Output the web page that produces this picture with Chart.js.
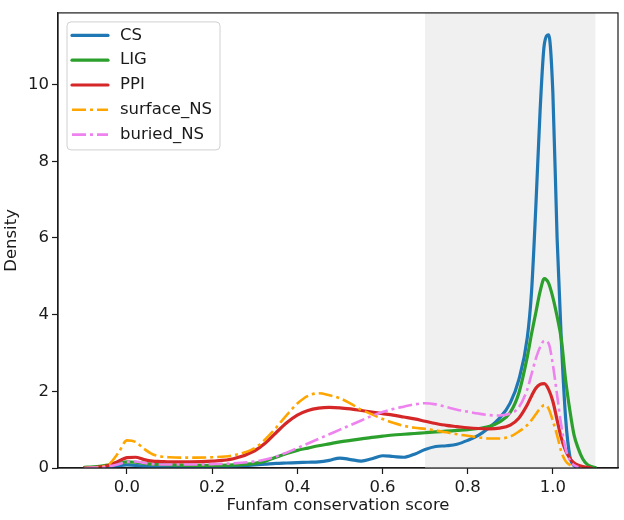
<!DOCTYPE html>
<html><head><meta charset="utf-8">
<script src="https://cdn.jsdelivr.net/npm/chart.js@4"></script>
<style>html,body{margin:0;padding:0;background:#fff}#wrap{width:624px;height:520px}</style>
</head><body><div id="wrap"><canvas id="c" width="624" height="520"></canvas></div>
<script>
// ---- data ----
const xGrid = [-0.10,-0.08,-0.06,-0.04,-0.02,0.00,0.02,0.04,0.06,0.08,0.10,0.15,0.20,0.25,0.30,0.325,0.35,0.375,0.40,0.425,0.45,0.475,0.50,0.525,0.55,0.575,0.60,0.625,0.65,0.675,0.70,0.725,0.75,0.775,0.80,0.825,0.85,0.875,0.90,0.92,0.94,0.95,0.96,0.97,0.98,0.99,1.00,1.01,1.02,1.03,1.04,1.05,1.06,1.07,1.08,1.09,1.10];
const csDensity = [0.00,0.01,0.02,0.04,0.06,0.08,0.07,0.04,0.03,0.03,0.03,0.03,0.04,0.05,0.08,0.10,0.12,0.13,0.14,0.15,0.16,0.20,0.26,0.22,0.18,0.24,0.32,0.30,0.28,0.36,0.48,0.56,0.58,0.62,0.72,0.85,1.05,1.30,1.70,2.30,3.40,4.60,6.80,9.30,11.05,11.30,9.80,6.00,3.30,1.30,0.30,0.06,0.01,null,null,null,null];
const ligDensity = [0.02,0.03,0.05,0.08,0.12,0.16,0.15,0.12,0.10,0.09,0.08,0.07,0.07,0.08,0.12,0.18,0.28,0.38,0.46,0.52,0.58,0.63,0.68,0.72,0.76,0.80,0.83,0.86,0.88,0.90,0.92,0.94,0.96,0.98,1.00,1.03,1.08,1.20,1.45,1.95,2.90,3.50,4.05,4.60,4.94,4.82,4.45,3.95,3.35,2.30,1.50,0.85,0.50,0.24,0.10,0.04,0.01];
const ppiDensity = [0.00,0.01,0.03,0.08,0.18,0.27,0.28,0.22,0.18,0.17,0.16,0.16,0.18,0.24,0.45,0.65,0.92,1.18,1.38,1.50,1.56,1.58,1.57,1.54,1.50,1.46,1.42,1.38,1.33,1.28,1.22,1.16,1.11,1.08,1.05,1.03,1.02,1.04,1.12,1.30,1.65,1.88,2.08,2.18,2.20,2.05,1.74,1.25,0.78,0.45,0.25,0.13,0.07,0.04,0.02,0.00,null];
const surfaceDensity = [0.00,0.01,0.03,0.12,0.40,0.72,0.68,0.50,0.36,0.30,0.28,0.27,0.28,0.33,0.52,0.75,1.05,1.38,1.68,1.88,1.95,1.90,1.82,1.68,1.52,1.40,1.28,1.18,1.10,1.05,1.02,0.98,0.93,0.88,0.84,0.80,0.77,0.77,0.82,0.95,1.12,1.25,1.40,1.55,1.64,1.55,1.23,0.85,0.42,0.18,0.08,0.02,null,null,null,null,null];
const buriedDensity = [0.00,0.01,0.02,0.05,0.10,0.16,0.17,0.13,0.10,0.09,0.09,0.09,0.10,0.12,0.17,0.22,0.30,0.40,0.52,0.64,0.76,0.88,1.00,1.12,1.24,1.36,1.46,1.54,1.60,1.66,1.69,1.66,1.59,1.52,1.47,1.42,1.38,1.37,1.42,1.58,2.05,2.45,2.85,3.15,3.32,3.25,2.70,1.90,1.10,0.50,0.20,0.07,0.02,null,null,null,null];
const seriesLabels = ['CS','LIG','PPI','surface_NS','buried_NS'];
const seriesValues = [csDensity, ligDensity, ppiDensity, surfaceDensity, buriedDensity];
const xTickValues = [0.0,0.2,0.4,0.6,0.8,1.0];
const yTickValues = [0,2,4,6,8,10];
const highlightRange = [0.7, 1.1];

// ---- styles ----
const seriesColors = ['#1f77b4','#2ca02c','#d62728','#ffa500','#ee82ee'];
const seriesDashed = [false,false,false,true,true];
const FONT = 'DejaVu Sans';
const FS = 16.5;
const INK = '#1a1a1a';

const datasets = seriesLabels.map((lab,i)=>({
  label: lab,
  data: xGrid.map((x,k)=>({x:x, y:seriesValues[i][k]})).filter(p=>p.y!==null),
  borderColor: seriesColors[i],
  backgroundColor: seriesColors[i],
  borderWidth: seriesDashed[i] ? 2.6 : 3.2,
  borderDash: seriesDashed[i] ? [14,4,3,4] : [],
  borderCapStyle: seriesDashed[i] ? 'butt' : 'round',
  borderJoinStyle: 'round',
  cubicInterpolationMode: 'monotone',
  pointRadius: 0,
  fill: false,
  order: seriesLabels.length - i
}));

const spanPlugin = {
  id:'span',
  beforeDatasetsDraw(chart){
    const {ctx, chartArea:a, scales:{x}} = chart;
    const x0 = x.getPixelForValue(highlightRange[0]);
    const x1 = x.getPixelForValue(highlightRange[1]);
    ctx.save();
    ctx.fillStyle = '#f0f0f0';
    ctx.fillRect(x0, a.top, x1-x0, a.bottom-a.top);
    ctx.restore();
  },
  afterDatasetsDraw(chart){
    const {ctx, chartArea:a} = chart;
    ctx.save();
    ctx.strokeStyle = INK; ctx.lineWidth = 1.2;
    ctx.strokeRect(a.left, a.top, a.right-a.left, a.bottom-a.top);
    ctx.restore();
  }
};

const legendPlugin = {
  id:'boxLegend',
  afterDraw(chart){
    const {ctx, chartArea:a} = chart;
    const bx = a.left + 9, by = a.top + 9, bw = 153, bh = 128, r = 4;
    ctx.save();
    ctx.beginPath();
    ctx.moveTo(bx+r,by); ctx.lineTo(bx+bw-r,by); ctx.arcTo(bx+bw,by,bx+bw,by+r,r);
    ctx.lineTo(bx+bw,by+bh-r); ctx.arcTo(bx+bw,by+bh,bx+bw-r,by+bh,r);
    ctx.lineTo(bx+r,by+bh); ctx.arcTo(bx,by+bh,bx,by+bh-r,r);
    ctx.lineTo(bx,by+r); ctx.arcTo(bx,by,bx+r,by,r); ctx.closePath();
    ctx.fillStyle = 'rgba(255,255,255,0.85)'; ctx.fill();
    ctx.strokeStyle = '#d0d0d0'; ctx.lineWidth = 1; ctx.stroke();
    ctx.font = FS + 'px "' + FONT + '"';
    ctx.textBaseline = 'middle'; ctx.textAlign = 'left'; ctx.fillStyle = INK;
    chart.data.datasets.forEach((ds,i)=>{
      const y = by + 13.5 + i*24.8;
      ctx.beginPath();
      ctx.setLineDash(ds.borderDash || []);
      ctx.lineCap = ds.borderCapStyle;
      ctx.strokeStyle = ds.borderColor; ctx.lineWidth = ds.borderWidth;
      ctx.moveTo(bx+5, y); ctx.lineTo(bx+41, y); ctx.stroke();
      ctx.setLineDash([]);
      ctx.fillText(ds.label, bx+53, y);
    });
    ctx.restore();
  }
};

new Chart(document.getElementById('c'), {
  type:'line',
  data:{datasets},
  plugins:[spanPlugin, legendPlugin],
  options:{
    responsive:false, animation:false, devicePixelRatio:1,
    layout:{padding:{left:0, top:4, right:6, bottom:0}},
    plugins:{legend:{display:false}, tooltip:{enabled:false}},
    scales:{
      x:{
        type:'linear', min:-0.162, max:1.153,
        afterFit(s){ s.height = 52; },
        afterBuildTicks(s){ s.ticks = xTickValues.map(v=>({value:v})); },
        ticks:{font:{family:FONT,size:FS}, color:INK, padding:4, maxRotation:0, autoSkip:false, callback:v=>Number(v).toFixed(1)},
        grid:{drawOnChartArea:false, drawTicks:true, tickLength:6, tickColor:INK, tickWidth:1.2},
        border:{display:true, color:INK, width:1.2},
        title:{display:true, text:'Funfam conservation score', color:INK, font:{family:FONT,size:FS}, padding:{top:0,bottom:4}}
      },
      y:{
        type:'linear', min:0, max:11.87,
        afterFit(s){ s.width = 58; },
        afterBuildTicks(s){ s.ticks = yTickValues.map(v=>({value:v})); },
        ticks:{font:{family:FONT,size:FS}, color:INK, padding:3, autoSkip:false, callback:v=>String(v)},
        grid:{drawOnChartArea:false, drawTicks:true, tickLength:6, tickColor:INK, tickWidth:1.2},
        border:{display:true, color:INK, width:1.2},
        title:{display:true, text:'Density', color:INK, font:{family:FONT,size:FS}, padding:{top:2,bottom:0}}
      }
    }
  }
});
</script></body></html>
